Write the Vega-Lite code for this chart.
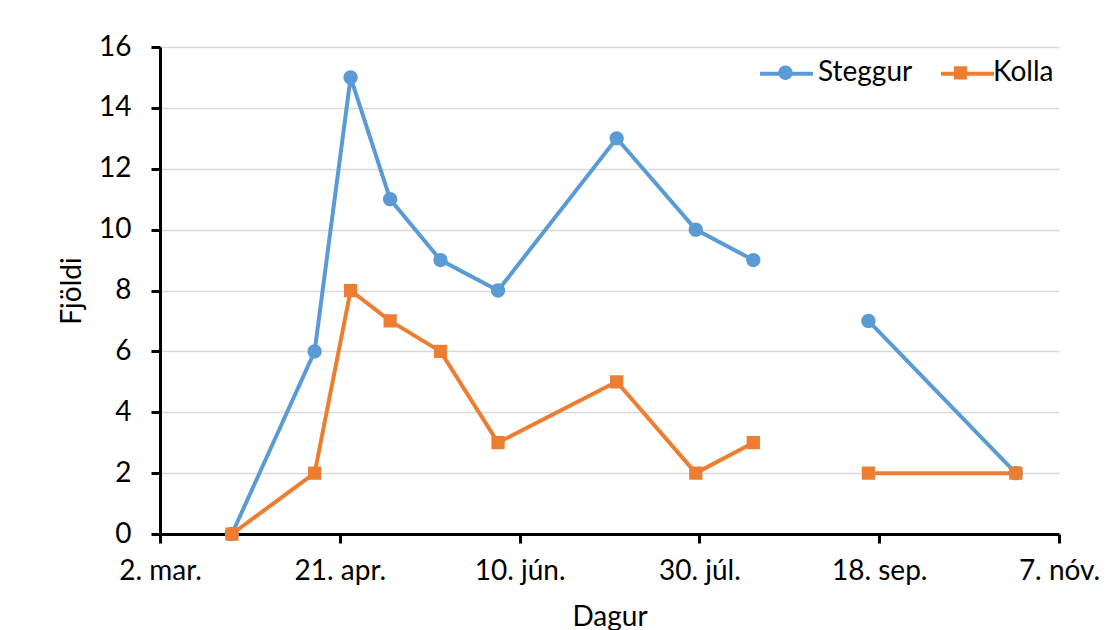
{
  "$schema": "https://vega.github.io/schema/vega-lite/v6.json",
  "autosize": "none",
  "padding": {"left": 160, "top": 47, "right": 48, "bottom": 96},
  "width": 899,
  "height": 487,
  "background": "white",
  "config": {
    "font": "Lato",
    "view": {"stroke": null},
    "axis": {
      "labelFont": "Lato",
      "titleFont": "Lato",
      "labelFontSize": 28,
      "titleFontSize": 28,
      "labelColor": "#000000",
      "titleColor": "#000000",
      "titleFontWeight": "normal",
      "domainColor": "#000000",
      "domainWidth": 3,
      "tickColor": "#000000",
      "tickWidth": 3,
      "tickSize": 9,
      "gridColor": "#D9D9D9",
      "gridWidth": 1.3
    },
    "legend": {
      "labelFont": "Lato",
      "labelFontSize": 28,
      "labelColor": "#000000"
    }
  },
  "data": {
    "values": [
      {"date": "2014-03-22", "series": "Steggur", "n": 0},
      {"date": "2014-04-14", "series": "Steggur", "n": 6},
      {"date": "2014-04-24", "series": "Steggur", "n": 15},
      {"date": "2014-05-05", "series": "Steggur", "n": 11},
      {"date": "2014-05-19", "series": "Steggur", "n": 9},
      {"date": "2014-06-04", "series": "Steggur", "n": 8},
      {"date": "2014-07-07", "series": "Steggur", "n": 13},
      {"date": "2014-07-29", "series": "Steggur", "n": 10},
      {"date": "2014-08-14", "series": "Steggur", "n": 9},
      {"date": "2014-09-01", "series": "Steggur", "n": null},
      {"date": "2014-09-15", "series": "Steggur", "n": 7},
      {"date": "2014-10-26", "series": "Steggur", "n": 2},
      {"date": "2014-03-22", "series": "Kolla", "n": 0},
      {"date": "2014-04-14", "series": "Kolla", "n": 2},
      {"date": "2014-04-24", "series": "Kolla", "n": 8},
      {"date": "2014-05-05", "series": "Kolla", "n": 7},
      {"date": "2014-05-19", "series": "Kolla", "n": 6},
      {"date": "2014-06-04", "series": "Kolla", "n": 3},
      {"date": "2014-07-07", "series": "Kolla", "n": 5},
      {"date": "2014-07-29", "series": "Kolla", "n": 2},
      {"date": "2014-08-14", "series": "Kolla", "n": 3},
      {"date": "2014-09-01", "series": "Kolla", "n": null},
      {"date": "2014-09-15", "series": "Kolla", "n": 2},
      {"date": "2014-10-26", "series": "Kolla", "n": 2}
    ]
  },
  "encoding": {
    "x": {
      "field": "date",
      "type": "temporal",
      "scale": {
        "type": "utc",
        "domain": [
          {"year": 2014, "month": 3, "date": 2, "utc": true},
          {"year": 2014, "month": 11, "date": 7, "utc": true}
        ],
        "nice": false
      },
      "axis": {
        "title": "Dagur",
        "grid": false,
        "values": [
          {"year": 2014, "month": 3, "date": 2, "utc": true},
          {"year": 2014, "month": 4, "date": 21, "utc": true},
          {"year": 2014, "month": 6, "date": 10, "utc": true},
          {"year": 2014, "month": 7, "date": 30, "utc": true},
          {"year": 2014, "month": 9, "date": 18, "utc": true},
          {"year": 2014, "month": 11, "date": 7, "utc": true}
        ],
        "labelExpr": "utcdate(datum.value) + '. ' + ['jan.','feb.','mar.','apr.','maí','jún.','júl.','ágú.','sep.','okt.','nóv.','des.'][utcmonth(datum.value)]",
        "labelPadding": 14,
        "titlePadding": 18,
        "labelOverlap": false,
        "labelFlush": false
      }
    },
    "y": {
      "field": "n",
      "type": "quantitative",
      "scale": {"domain": [0, 16], "nice": false},
      "axis": {
        "title": "Fjöldi",
        "values": [0, 2, 4, 6, 8, 10, 12, 14, 16],
        "labelPadding": 20,
        "titlePadding": 12
      }
    }
  },
  "layer": [
    {
      "mark": {"type": "line", "strokeWidth": 4},
      "encoding": {
        "color": {
          "field": "series",
          "type": "nominal",
          "scale": {"domain": ["Steggur", "Kolla"], "range": ["#5B9BD5", "#ED7D31"]},
          "legend": {
            "title": null,
            "orient": "none",
            "legendX": 598,
            "legendY": -2,
            "direction": "horizontal",
            "symbolType": "M-1,0L1,0",
            "symbolSize": 2809,
            "symbolStrokeWidth": 4,
            "labelOffset": 5,
            "columnPadding": 112,
            "labelExpr": "''"
          }
        }
      }
    },
    {
      "transform": [{"filter": "datum.n != null"}],
      "mark": {"type": "point", "filled": true, "size": 2809, "opacity": 1},
      "encoding": {
        "shape": {
          "field": "series",
          "type": "nominal",
          "scale": {
            "domain": ["Steggur", "Kolla"],
            "range": [
              "M-1,0L1,0M0.27,0A0.27,0.27 0 1 1 -0.27,0A0.27,0.27 0 1 1 0.27,0Z",
              "M-1,0L1,0M-0.25,-0.25L0.25,-0.25L0.25,0.25L-0.25,0.25Z"
            ]
          },
          "legend": {
            "title": null,
            "orient": "none",
            "legendX": 598,
            "legendY": -2,
            "direction": "horizontal",
            "symbolSize": 2809,
            "labelOffset": 5,
            "columnPadding": 20
          }
        },
        "color": {
          "field": "series",
          "type": "nominal",
          "scale": {"domain": ["Steggur", "Kolla"], "range": ["#5B9BD5", "#ED7D31"]},
          "legend": {
            "title": null,
            "orient": "none",
            "legendX": 598,
            "legendY": -2,
            "direction": "horizontal",
            "symbolSize": 2809,
            "labelOffset": 5,
            "columnPadding": 20
          }
        }
      }
    }
  ],
  "resolve": {"legend": {"color": "independent", "shape": "independent"}}
}
